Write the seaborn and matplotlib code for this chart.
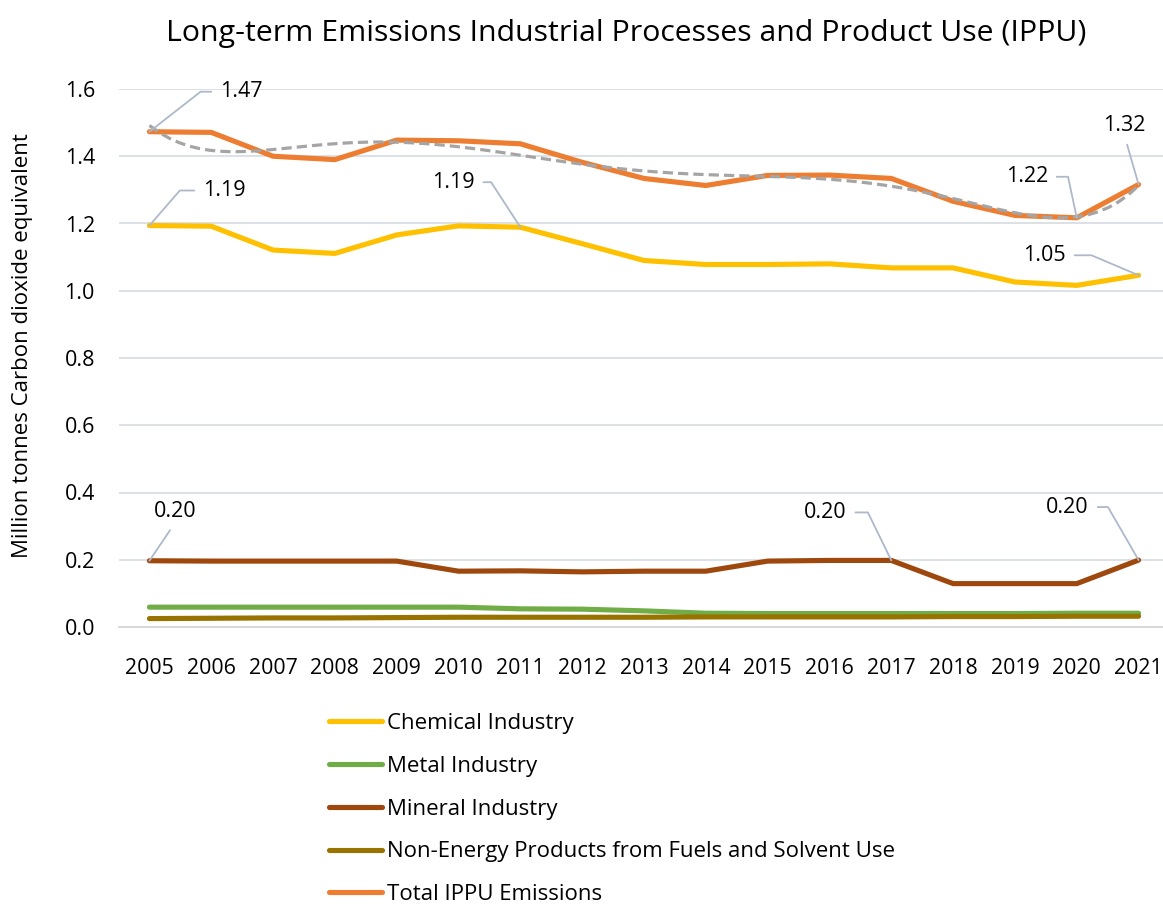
import numpy as np
import pandas as pd
import matplotlib
matplotlib.use("Agg")
import matplotlib.pyplot as plt
from matplotlib.lines import Line2D
import seaborn as sns

# ---- data (million tonnes CO2 equivalent) ----
years = list(range(2005, 2022))
chemical = [1.194, 1.192, 1.121, 1.111, 1.166, 1.193, 1.189, 1.140, 1.090,
            1.078, 1.078, 1.080, 1.068, 1.068, 1.026, 1.016, 1.046]
metal = [0.059, 0.059, 0.059, 0.059, 0.059, 0.059, 0.054, 0.053, 0.048,
         0.041, 0.040, 0.040, 0.040, 0.040, 0.040, 0.041, 0.041]
mineral = [0.197, 0.196, 0.196, 0.196, 0.196, 0.166, 0.167, 0.164, 0.166,
           0.166, 0.196, 0.198, 0.198, 0.129, 0.129, 0.129, 0.199]
non_energy = [0.025, 0.026, 0.027, 0.027, 0.028, 0.029, 0.029, 0.029, 0.029,
              0.030, 0.030, 0.030, 0.030, 0.031, 0.031, 0.032, 0.032]
total = [1.473, 1.471, 1.400, 1.390, 1.448, 1.446, 1.437, 1.382, 1.334,
         1.313, 1.343, 1.344, 1.334, 1.266, 1.224, 1.217, 1.316]

series_names = ["Chemical Industry", "Metal Industry", "Mineral Industry",
                "Non-Energy Products from Fuels and Solvent Use",
                "Total IPPU Emissions"]
series_values = [chemical, metal, mineral, non_energy, total]
colors = ["#FFC000", "#70AD47", "#9E480E", "#997300", "#ED7D31"]

sns.set_theme(style="white")
plt.rcParams["font.family"] = ["Open Sans", "DejaVu Sans"]

idx = np.arange(len(years))
df = pd.DataFrame({
    "x": np.tile(idx, len(series_names)),
    "value": np.concatenate(series_values),
    "series": np.repeat(series_names, len(years)),
})

fig = plt.figure(figsize=(11.63, 9.06), dpi=100)
W, H = 1163, 906
ax = fig.add_axes([118.5 / W, 1 - 627 / H, (1169.5 - 118.5) / W, (627 - 89) / H])

lw = 3.7
sns.lineplot(data=df, x="x", y="value", hue="series", hue_order=series_names,
             palette=dict(zip(series_names, colors)), linewidth=lw,
             legend=False, ax=ax, solid_capstyle="round", solid_joinstyle="round")

# polynomial trend of the total
sns.regplot(x=idx, y=np.array(total), order=6, ci=None, scatter=False,
            truncate=True, ax=ax,
            line_kws=dict(color="#A5A5A5", linewidth=2.3, linestyle=(0, (3.2, 1.6)),
                          dash_capstyle="butt"))

ax.set_xlim(-0.5, len(years) - 0.5)
ax.set_ylim(0, 1.6)
ax.set_yticks(np.arange(0, 1.61, 0.2))
ax.set_yticklabels([f"{v:.1f}" for v in np.arange(0, 1.61, 0.2)])
ax.set_xticks(idx)
ax.set_xticklabels([str(y) for y in years])
ax.set_xticks(np.arange(-0.5, len(years), 1.0), minor=True)
ax.tick_params(axis="x", which="major", length=0, pad=22, labelsize=15.3, colors="#000000")
ax.tick_params(axis="x", which="minor", length=7, width=1.3, color="#D9D9D9", direction="out")
ax.tick_params(axis="y", length=0, pad=17, labelsize=15.5, colors="#000000")
ax.grid(axis="y", color="#DCE1E8", linewidth=1.4)
ax.grid(axis="x", visible=False)
ax.set_axisbelow(True)
for s in ["top", "right", "left"]:
    ax.spines[s].set_visible(False)
ax.spines["bottom"].set_color("#D9D9D9")
ax.spines["bottom"].set_linewidth(1.4)
ax.set_xlabel("")
ax.set_ylabel("")

fig.text(23 / W, 1 - 346 / H, "Million tonnes Carbon dioxide equivalent",
         rotation=90, ha="center", va="center", fontsize=16, color="#000000")
fig.text(626 / W, 1 - 34 / H,
         "Long-term Emissions Industrial Processes and Product Use (IPPU)",
         ha="center", va="center", fontsize=21.8, color="#000000")

# data labels with leader lines
leader = "#ADB9CA"
labels = [
    # series values, year index, text offset (px), side, leader angle
    (total, 0, (92, 40), "left", 38),
    (chemical, 0, (75, 35), "left", 49),
    (chemical, 6, (-67, 45), "right", 123),
    (total, 15, (-50, 41), "right", 102),
    (total, 16, (-14, 59), "bottom", None),
    (chemical, 16, (-94, 20), "right", 157),
    (mineral, 0, (26, 49), "bottom", None),
    (mineral, 12, (-66, 48), "right", 116),
    (mineral, 16, (-71, 53), "right", 120),
]
for vals, i, (dx, dy), side, ang in labels:
    if side == "bottom":
        arrow = dict(arrowstyle="-", color=leader, lw=1.3, relpos=(0.5, 0.0),
                     shrinkA=4, shrinkB=0, connectionstyle="arc3")
    else:
        rel = (0.0, 0.5) if side == "left" else (1.0, 0.5)
        arrow = dict(arrowstyle="-", color=leader, lw=1.3, relpos=rel,
                     shrinkA=4, shrinkB=0,
                     connectionstyle=f"angle,angleA=0,angleB={ang},rad=0")
    ax.annotate(f"{vals[i]:.2f}", xy=(i, vals[i]), xytext=(dx, dy),
                textcoords="offset pixels", ha="center", va="center",
                fontsize=15.5, color="#000000", arrowprops=arrow, zorder=6)

handles = [Line2D([0], [0], color=c, lw=lw, solid_capstyle="round") for c in colors]
fig.legend(handles, series_names, loc="upper left",
           bbox_to_anchor=(329 / W, 1 - 713 / H), frameon=False,
           fontsize=16, labelcolor="#000000", handlelength=2.4, handletextpad=0.2,
           labelspacing=0.98, borderpad=0, borderaxespad=0)

fig.savefig("out.png", dpi=100)
